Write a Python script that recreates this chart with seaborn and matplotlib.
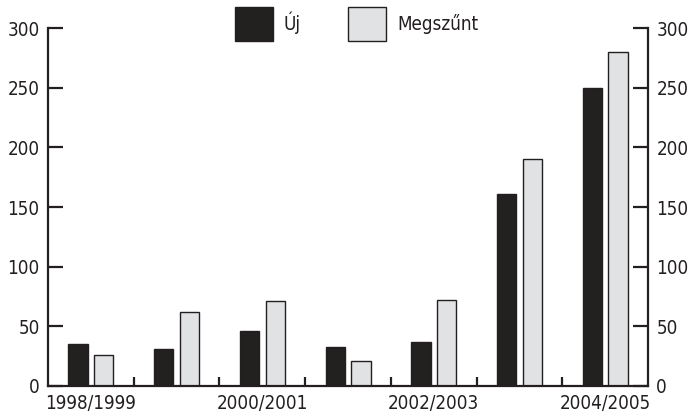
import pandas as pd
import matplotlib.pyplot as plt
import seaborn as sns

# data
periods = ["1998/1999", "1999/2000", "2000/2001", "2001/2002",
           "2002/2003", "2003/2004", "2004/2005"]
uj = [35, 31, 46, 33, 37, 161, 250]
megszunt = [26, 62, 71, 21, 72, 190, 280]
shown_labels = ["1998/1999", "", "2000/2001", "", "2002/2003", "", "2004/2005"]
y_ticks = [0, 50, 100, 150, 200, 250, 300]

df = pd.DataFrame({
    "idoszak": periods * 2,
    "db": uj + megszunt,
    "tipus": ["Új"] * len(uj) + ["Megszűnt"] * len(megszunt),
})

ink = "#231f20"

sns.set_style("ticks")
plt.rcParams['font.family'] = ['DejaVu Sans']
plt.rcParams['font.stretch'] = 'condensed'
plt.rcParams['text.color'] = ink
plt.rcParams['xtick.labelcolor'] = ink
plt.rcParams['ytick.labelcolor'] = ink

fig = plt.figure(figsize=(6.91, 4.15), dpi=100)
ax = fig.add_axes([0.0695, 0.070, 0.8683, 0.862])

sns.barplot(data=df, x="idoszak", y="db", hue="tipus",
            palette={"Új": ink, "Megszűnt": "#e1e2e4"},
            width=0.6, gap=0.25, edgecolor=ink, linewidth=1,
            errorbar=None, ax=ax)

ax.set_xlim(-0.5, 6.5)
ax.set_ylim(0, 300)
ax.set_xlabel("")
ax.set_ylabel("")

ax.set_xticks(range(len(periods)))
ax.set_xticklabels(shown_labels)
ax.set_xticks([i + 0.5 for i in range(len(periods) - 1)], minor=True)
ax.set_yticks(y_ticks)

ax.tick_params(axis="x", which="major", length=0, labelsize=13.5, pad=6)
ax.tick_params(axis="x", which="minor", direction="in", length=6.5, width=1.6, color=ink)
ax.tick_params(axis="y", direction="in", length=11, width=1.6, color=ink,
               labelsize=13.5, right=True, labelright=True, pad=6)

for side in ["left", "right", "bottom"]:
    ax.spines[side].set_linewidth(1.6)
    ax.spines[side].set_color(ink)
ax.spines["top"].set_visible(False)

ax.legend(loc="center", bbox_to_anchor=(0.516, 0.942), bbox_transform=fig.transFigure,
          ncol=2, frameon=False, fontsize=13.5, handlelength=2.03, handleheight=2.4,
          handletextpad=0.6, columnspacing=2.5)

fig.savefig("out.png", dpi=100)
